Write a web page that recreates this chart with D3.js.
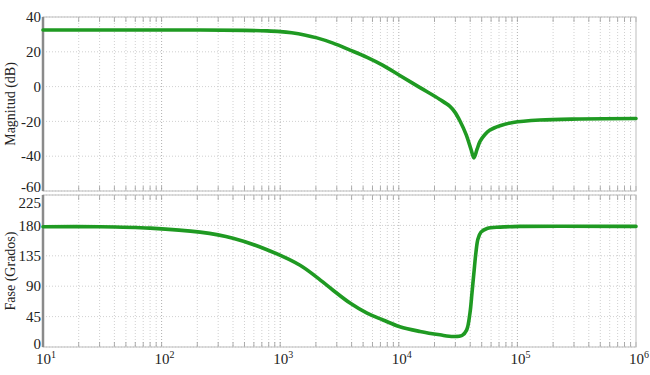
<!DOCTYPE html>
<html>
<head>
<meta charset="utf-8">
<script src="https://cdn.jsdelivr.net/npm/d3@7"></script>
<style>
  html, body { margin: 0; padding: 0; background: #fff; }
  text { font-family: "Liberation Serif", "Times New Roman", serif; fill: #222; }
</style>
</head>
<body>
<svg id="chart" width="650" height="375"></svg>
<script>
// ---- Data ----
const magFreq = [10, 211, 500, 774, 1000, 1250, 1600, 2040, 2790, 3880, 5400, 7360, 10200, 15100, 22200, 27000, 29800, 32800, 36900, 40600, 43000, 45700, 48400, 53300, 58700, 71300, 91800, 155000, 337000, 1000000];
const magDb   = [32.5, 32.5, 32.3, 32, 31.6, 30.9, 29.7, 28, 25, 21, 16.8, 12.2, 6.4, -0.6, -7.4, -11.4, -14.8, -19.8, -27.5, -36, -41, -36, -31.5, -27.5, -25, -22.5, -20.6, -19.2, -18.6, -18.3];

const phaseFreq = [10, 30, 80, 211, 400, 774, 1470, 2040, 2790, 3880, 5400, 7360, 10200, 15100, 22200, 28700, 34100, 37300, 39800, 41400, 43000, 44700, 46500, 49300, 55500, 71300, 105000, 1000000];
const phaseDeg  = [178, 178, 176, 170, 161, 144, 121, 103, 84, 65, 50, 40, 30, 23, 18, 15.5, 17, 25, 50, 80, 110, 140, 160, 170, 175.5, 177.5, 178.5, 178.5];

const magTicks = [40, 20, 0, -20, -40, -60];
const phaseTicks = [0, 45, 90, 135, 180, 225];
const decadeExps = [1, 2, 3, 4, 5, 6];
const magLabel = "Magnitud (dB)";
const phaseLabel = "Fase (Grados)";

// ---- Layout ----
const svg = d3.select("#chart");
const left = 43, right = 636;
const top1 = 17, bot1 = 191;
const top2 = 195, bot2 = 347;

const x = d3.scaleLog().domain([10, 1e6]).range([left, right]);
const yMag = d3.scaleLinear().domain([-60, 40]).range([bot1, top1]);
const yPh = d3.scaleLinear().domain([0, 225]).range([bot2, top2]);

const minor = [];
for (let e = 1; e < 6; e++) for (let m = 2; m <= 9; m++) minor.push(m * Math.pow(10, e));
const decades = decadeExps.map(e => Math.pow(10, e));

function panel(y, ticks, top, bot, freq, vals, label, labelShift) {
  const g = svg.append("g");
  g.selectAll(".vmin").data(minor).join("line")
    .attr("x1", d => x(d)).attr("x2", d => x(d))
    .attr("y1", top).attr("y2", bot)
    .attr("stroke", "#c4c4c4").attr("stroke-width", 0.8).attr("stroke-dasharray", "1,2");
  g.selectAll(".vdec").data(decades.slice(1, -1)).join("line")
    .attr("x1", d => x(d)).attr("x2", d => x(d))
    .attr("y1", top).attr("y2", bot)
    .attr("stroke", "#a8a8a8").attr("stroke-width", 0.9).attr("stroke-dasharray", "1,2");
  g.selectAll(".hg").data(ticks).join("line")
    .attr("x1", left).attr("x2", right)
    .attr("y1", d => y(d)).attr("y2", d => y(d))
    .attr("stroke", "#c4c4c4").attr("stroke-width", 0.8).attr("stroke-dasharray", "1,2");
  const allT = minor.concat(decades);
  g.selectAll(".tt").data(allT).join("line")
    .attr("x1", d => x(d)).attr("x2", d => x(d))
    .attr("y1", top).attr("y2", top + 5)
    .attr("stroke", "#999").attr("stroke-width", 0.8);
  g.selectAll(".tb").data(allT).join("line")
    .attr("x1", d => x(d)).attr("x2", d => x(d))
    .attr("y1", bot).attr("y2", bot - 5)
    .attr("stroke", "#999").attr("stroke-width", 0.8);
  g.append("rect").attr("x", left).attr("y", top).attr("width", right - left).attr("height", bot - top)
    .attr("fill", "none").attr("stroke", "#bdbdbd").attr("stroke-width", 1);
  g.append("line").attr("x1", left).attr("x2", left).attr("y1", top).attr("y2", bot)
    .attr("stroke", "#8a8a8a").attr("stroke-width", 2.5);
  g.selectAll(".yl").data(ticks).join("text")
    .attr("x", left - 2).attr("y", d => y(d) + (labelShift[d] || 0)).attr("dy", "0.35em")
    .attr("text-anchor", "end").attr("font-size", 15).text(d => d);
  g.append("text")
    .attr("transform", `translate(10,${(top + bot) / 2}) rotate(-90)`)
    .attr("text-anchor", "middle").attr("dy", "0.35em").attr("font-size", 14).text(label);
  const pts = freq.map((f, i) => [f, vals[i]]);
  g.append("path").datum(pts)
    .attr("d", d3.line().x(d => x(d[0])).y(d => y(d[1])).curve(d3.curveCatmullRom.alpha(0.5)))
    .attr("fill", "none").attr("stroke", "#1f9a22").attr("stroke-width", 3.6)
    .attr("stroke-linejoin", "round").attr("stroke-linecap", "round");
}

panel(yMag, magTicks, top1, bot1, magFreq, magDb, magLabel, {"-60": -4});
panel(yPh, phaseTicks, top2, bot2, phaseFreq, phaseDeg, phaseLabel, {"225": 8, "0": -3});

const xl = svg.selectAll(".xl").data(decadeExps).join("text")
  .attr("x", d => x(Math.pow(10, d)) + 3).attr("y", 364)
  .attr("text-anchor", "middle").attr("font-size", 15);
xl.append("tspan").text("10");
xl.append("tspan").attr("dy", -6).attr("font-size", 10).text(d => d);
</script>
</body>
</html>
